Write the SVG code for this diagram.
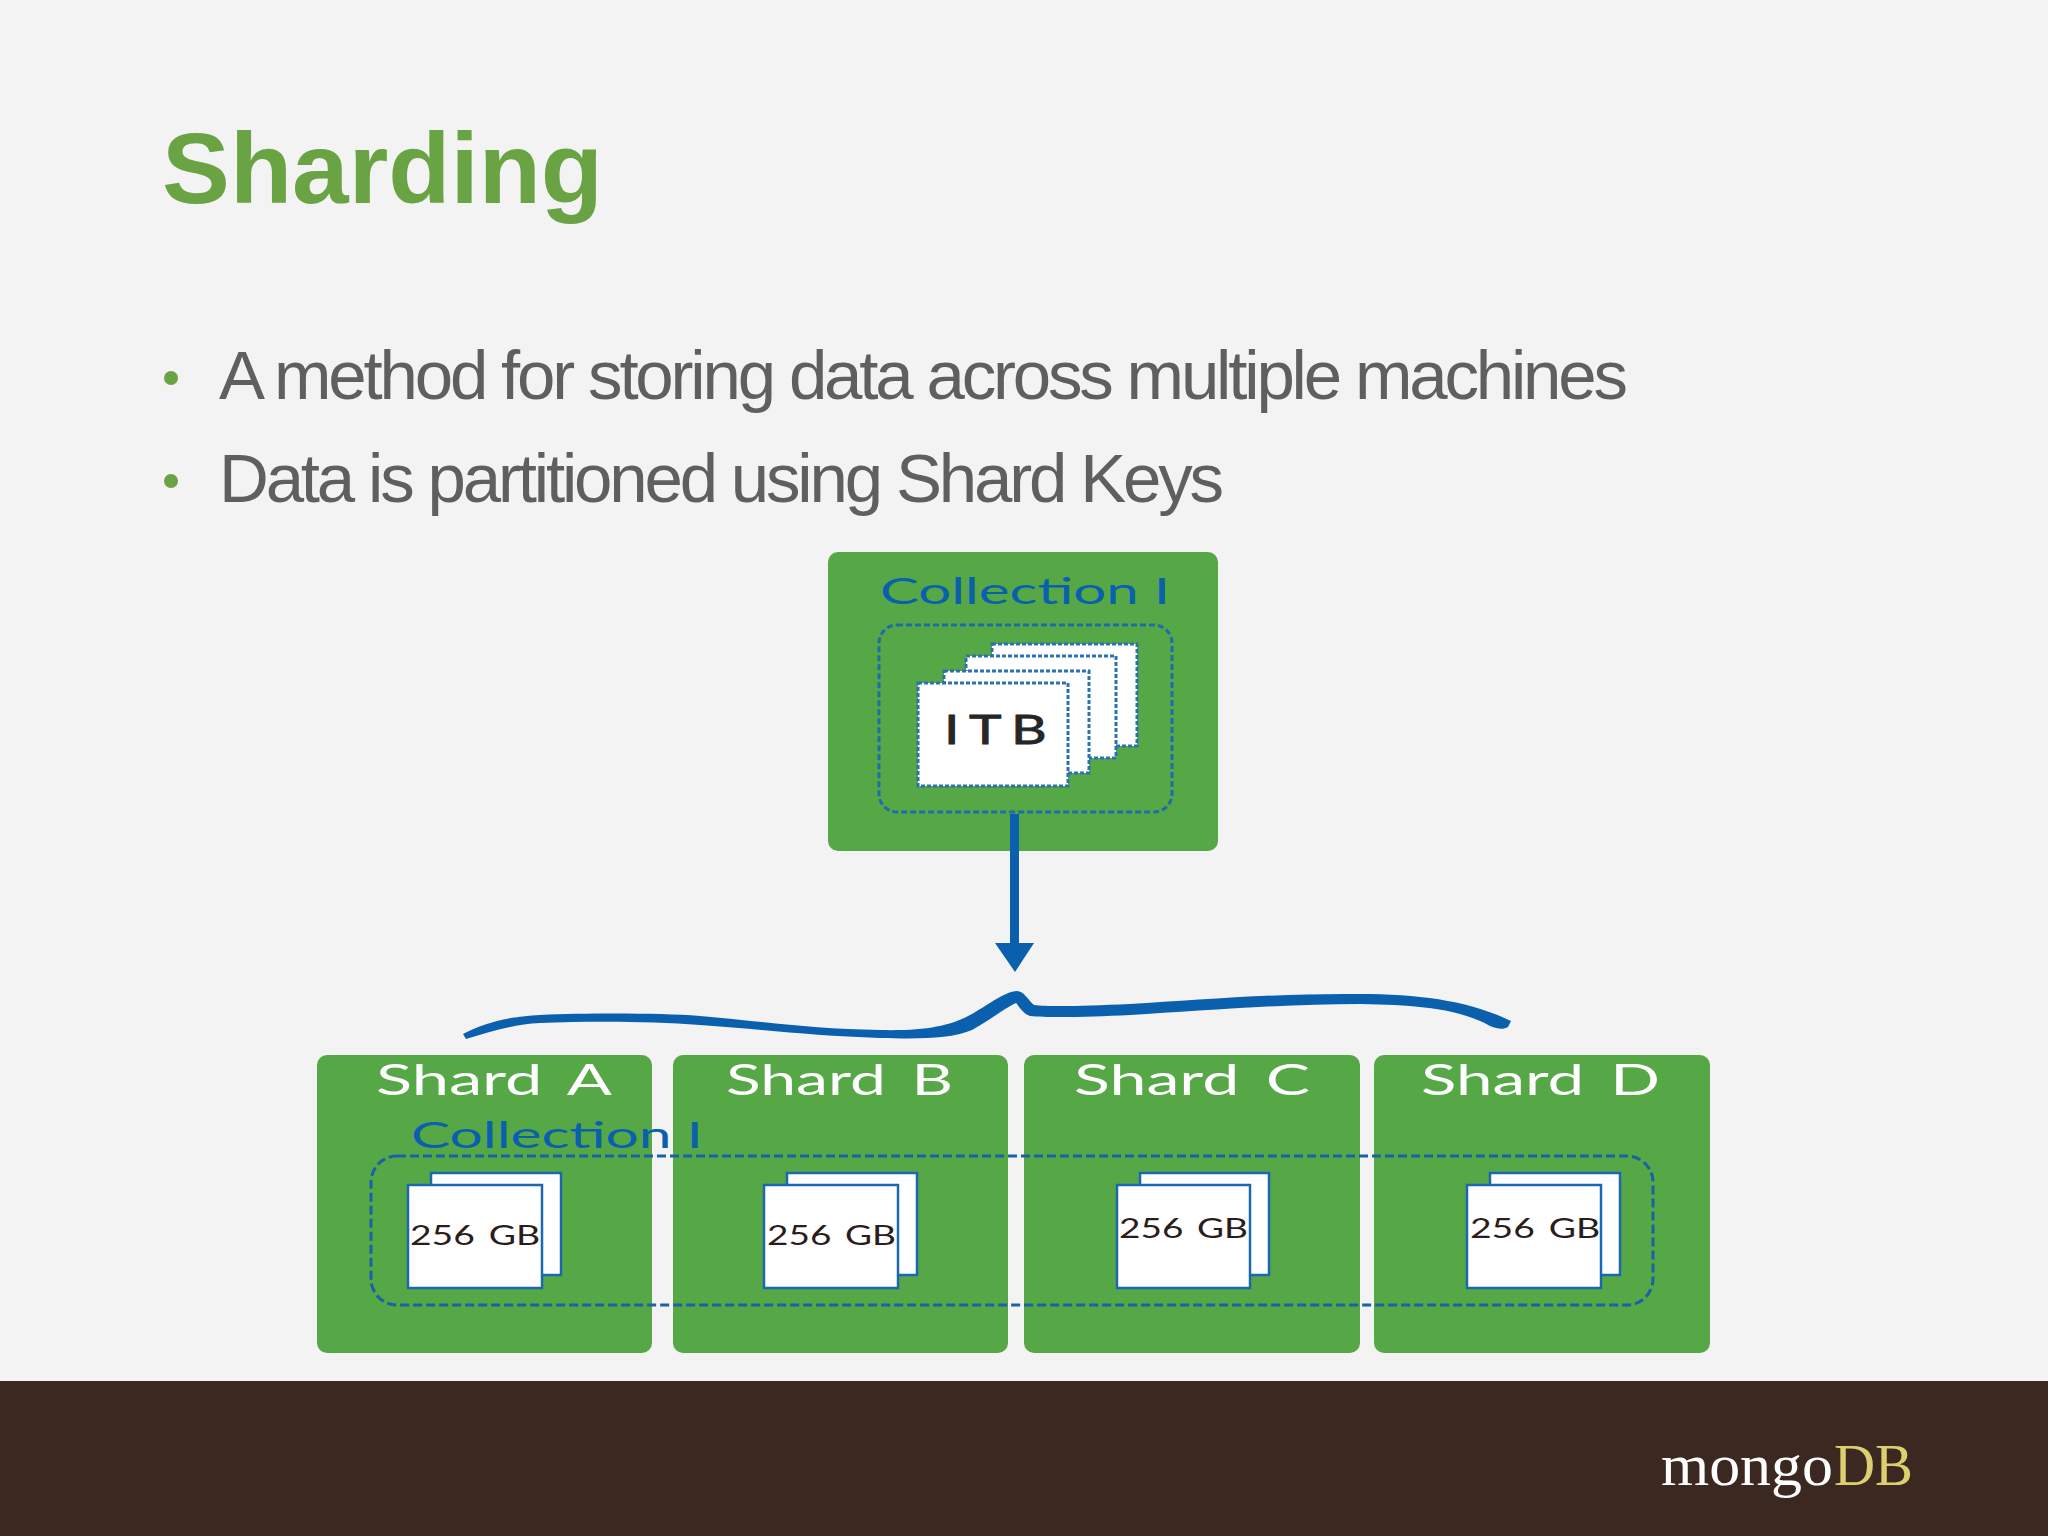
<svg xmlns="http://www.w3.org/2000/svg" width="2048" height="1536" viewBox="0 0 2048 1536">
<style>
.box{fill:#56a846}
.gill{font-family:Lato,"Liberation Sans",sans-serif}
.coll{fill:#0b60ae;font-size:37px}
.sh{fill:#fff;font-size:42px;word-spacing:6px}
.gb{fill:#2a1d1b;font-size:26px;word-spacing:3px}
.body{font-family:"Liberation Sans",Arial,sans-serif;font-size:69px;fill:#5f5f61}
.pg{fill:#fff;stroke:#1a68ad;stroke-width:2.5}
.dpg{fill:#fff;stroke:#2a72b0;stroke-width:3;stroke-dasharray:4 2}
.dash{fill:none;stroke:#1a62a5;stroke-width:3;stroke-dasharray:9 4}
</style>
<rect width="2048" height="1536" fill="#f3f3f4"/>
<g id="title"><text x="162" y="203" font-family="Liberation Sans,Arial,sans-serif" font-weight="700" font-size="100" fill="#6aa343" textLength="441" lengthAdjust="spacingAndGlyphs">Sharding</text></g>
<g id="bullets">
<circle cx="171" cy="378" r="7" fill="#6aa343"/>
<text class="body" x="219" y="399" textLength="1409" lengthAdjust="spacing">A method for storing data across multiple machines</text>
<circle cx="171" cy="481" r="7" fill="#6aa343"/>
<text class="body" x="219" y="502" textLength="1005" lengthAdjust="spacing">Data is partitioned using Shard Keys</text>
</g>
<g id="collection">
<rect class="box" x="828" y="552" width="390" height="299" rx="10"/>
<text class="gill coll" x="880" y="604" textLength="290" lengthAdjust="spacingAndGlyphs">Collection I</text>
<rect x="879" y="625" width="293" height="187" rx="18" fill="none" stroke="#1f6cab" stroke-width="3" stroke-dasharray="6 3"/>
<rect class="dpg" x="992" y="644" width="145" height="102"/>
<rect class="dpg" x="966" y="656" width="150" height="102"/>
<rect class="dpg" x="944" y="671" width="145" height="102"/>
<rect class="dpg" x="918" y="683" width="150" height="103"/>
<text class="gill" x="944" y="744" font-size="41" letter-spacing="7" textLength="112" lengthAdjust="spacingAndGlyphs" fill="#262626" stroke="#262626" stroke-width="0.8">ITB</text>
</g>
<g id="shard-a">
<rect class="box" x="317" y="1055" width="335" height="298" rx="10"/>
<text class="gill sh" x="376" y="1095" textLength="236" lengthAdjust="spacingAndGlyphs">Shard A</text>
</g>
<g id="shard-b">
<rect class="box" x="673" y="1055" width="335" height="298" rx="10"/>
<text class="gill sh" x="726" y="1095" textLength="227" lengthAdjust="spacingAndGlyphs">Shard B</text>
</g>
<g id="shard-c">
<rect class="box" x="1024" y="1055" width="336" height="298" rx="10"/>
<text class="gill sh" x="1074" y="1095" textLength="236" lengthAdjust="spacingAndGlyphs">Shard C</text>
</g>
<g id="shard-d">
<rect class="box" x="1374" y="1055" width="336" height="298" rx="10"/>
<text class="gill sh" x="1421" y="1095" textLength="239" lengthAdjust="spacingAndGlyphs">Shard D</text>
</g>
<g id="sharded-collection">
<text class="gill coll" x="411" y="1148" textLength="292" lengthAdjust="spacingAndGlyphs">Collection I</text>
<rect class="dash" x="371" y="1156" width="1282" height="149" rx="26"/>
</g>
<g id="chunks-a"><rect class="pg" x="431" y="1173" width="130" height="102"/><rect class="pg" x="408" y="1185" width="134" height="103"/><text class="gill gb" x="410" y="1245" textLength="130" lengthAdjust="spacingAndGlyphs">256 GB</text></g>
<g id="chunks-b"><rect class="pg" x="787" y="1173" width="130" height="102"/><rect class="pg" x="764" y="1185" width="134" height="103"/><text class="gill gb" x="767" y="1245" textLength="129" lengthAdjust="spacingAndGlyphs">256 GB</text></g>
<g id="chunks-c"><rect class="pg" x="1140" y="1173" width="129" height="102"/><rect class="pg" x="1117" y="1185" width="133" height="103"/><text class="gill gb" x="1119" y="1238" textLength="129" lengthAdjust="spacingAndGlyphs">256 GB</text></g>
<g id="chunks-d"><rect class="pg" x="1490" y="1173" width="130" height="102"/><rect class="pg" x="1467" y="1185" width="134" height="103"/><text class="gill gb" x="1470" y="1238" textLength="130" lengthAdjust="spacingAndGlyphs">256 GB</text></g>
<g id="connectors">
<rect x="1010" y="814" width="9" height="130" fill="#0b60ae"/>
<polygon points="995,943 1034,943 1015,972" fill="#0b60ae"/>
<path d="M463 1034 C485 1023 505 1017 540 1015 C590 1013 660 1013 700 1016 C760 1021 810 1029 880 1030 C925 1031 950 1026 970 1015 C985 1007 1005 991 1017 991 C1024 991 1028 1000 1034 1005 C1050 1007 1085 1006 1130 1004 C1200 1000 1280 993 1360 994 C1420 994 1470 1001 1511 1021 L1508 1027 C1503 1030 1498 1029 1490 1026 C1460 1009 1420 1005 1360 1004 C1280 1004 1200 1011 1130 1015 C1090 1017 1050 1018 1030 1016 C1022 1013 1019 1006 1016 1003 C1005 1008 990 1020 972 1030 C950 1039 920 1039 880 1038 C810 1036 760 1029 700 1025 C650 1021 590 1021 540 1023 C515 1024 490 1032 466 1039 Z" fill="#0b60ae"/>
</g>
<g id="footer">
<rect y="1381" width="2048" height="155" fill="#3b2820"/>
<text x="1661" y="1485" font-family="Liberation Serif,serif" font-size="60" fill="#ffffff" textLength="172" lengthAdjust="spacingAndGlyphs">mongo</text>
<text x="1834" y="1485" font-family="Liberation Serif,serif" font-size="60" fill="#dccf6f" textLength="79" lengthAdjust="spacingAndGlyphs">DB</text>
</g>
</svg>
